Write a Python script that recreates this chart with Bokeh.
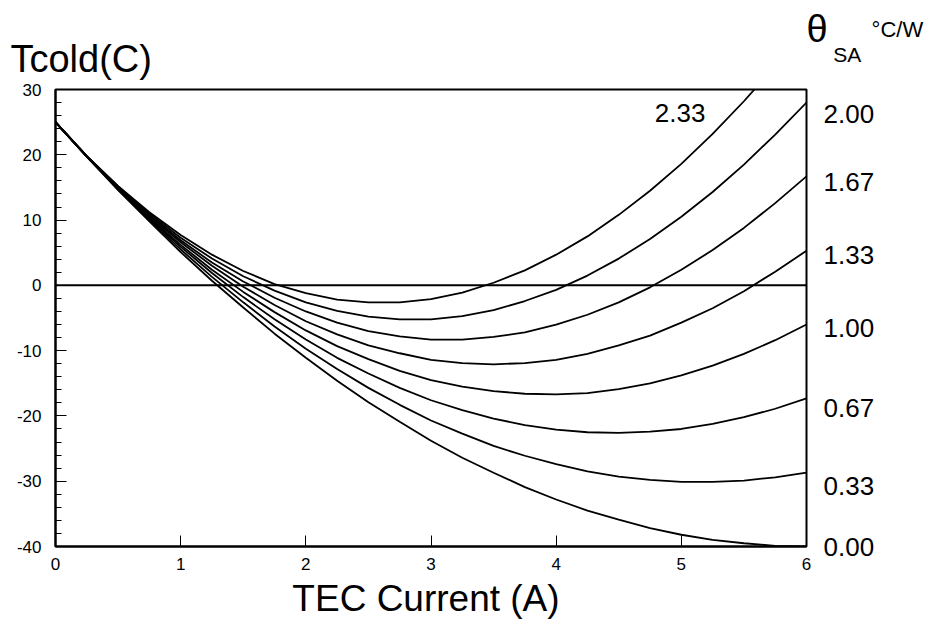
from bokeh.plotting import figure
from bokeh.models import Range1d, LinearAxis, FixedTicker, SingleIntervalTicker, Label, Span
from bokeh.embed import file_html
from bokeh.resources import INLINE

# ---- data ----
tec_current = [0.0, 0.25, 0.5, 0.75, 1.0, 1.25, 1.5, 1.75, 2.0, 2.25, 2.5, 2.75, 3.0,
               3.25, 3.5, 3.75, 4.0, 4.25, 4.5, 4.75, 5.0, 5.25, 5.5, 5.75, 6.0]

tcold_theta_000 = [25.0, 19.7, 14.6, 9.8, 5.1, 0.7, -3.4, -7.4, -11.1, -14.6, -17.9, -20.9, -23.8,
                   -26.4, -28.7, -30.9, -32.8, -34.5, -35.9, -37.2, -38.2, -39.0, -39.5, -39.9, -40.0]
tcold_theta_033 = [25.0, 19.7, 14.7, 10.0, 5.5, 1.3, -2.6, -6.3, -9.7, -12.8, -15.7, -18.3, -20.7,
                   -22.7, -24.6, -26.1, -27.4, -28.5, -29.3, -29.8, -30.1, -30.1, -29.9, -29.4, -28.7]
tcold_theta_067 = [25.0, 19.7, 14.8, 10.2, 5.9, 1.9, -1.8, -5.2, -8.3, -11.1, -13.5, -15.7, -17.6,
                   -19.1, -20.4, -21.4, -22.1, -22.5, -22.6, -22.4, -22.0, -21.2, -20.2, -18.9, -17.3]
tcold_theta_100 = [25.0, 19.7, 14.9, 10.4, 6.2, 2.4, -1.0, -4.1, -6.9, -9.3, -11.3, -13.1, -14.5,
                   -15.5, -16.2, -16.6, -16.7, -16.5, -15.9, -15.0, -13.8, -12.3, -10.5, -8.4, -6.0]
tcold_theta_133 = [25.0, 19.8, 15.0, 10.6, 6.6, 3.0, -0.2, -3.0, -5.5, -7.5, -9.2, -10.4, -11.4,
                   -11.9, -12.1, -11.9, -11.4, -10.5, -9.2, -7.7, -5.7, -3.5, -0.9, 2.1, 5.3]
tcold_theta_167 = [25.0, 19.8, 15.1, 10.8, 6.9, 3.5, 0.6, -1.9, -4.0, -5.7, -7.0, -7.8, -8.3,
                   -8.3, -7.9, -7.2, -6.0, -4.5, -2.6, -0.3, 2.4, 5.4, 8.8, 12.6, 16.7]
tcold_theta_200 = [25.0, 19.8, 15.2, 11.0, 7.3, 4.1, 1.4, -0.8, -2.6, -3.9, -4.8, -5.2, -5.2,
                   -4.7, -3.8, -2.4, -0.7, 1.5, 4.1, 7.1, 10.5, 14.3, 18.5, 23.1, 28.0]
tcold_theta_233 = [25.0, 19.8, 15.2, 11.2, 7.7, 4.7, 2.2, 0.2, -1.2, -2.2, -2.6, -2.6, -2.1,
                   -1.1, 0.4, 2.3, 4.7, 7.5, 10.8, 14.5, 18.6, 23.2, 28.2, 33.6, 39.3]

curves = [tcold_theta_000, tcold_theta_033, tcold_theta_067, tcold_theta_100,
          tcold_theta_133, tcold_theta_167, tcold_theta_200, tcold_theta_233]

y_ticks = [-40, -30, -20, -10, 0, 10, 20, 30]
y_tick_labels = ["-40", "-30", "-20", "-10", "0", "10", "20", "30"]
theta_labels = ["2.00", "1.67", "1.33", "1.00", "0.67", "0.33", "0.00"]
theta_label_at = [26.3, 15.8, 4.7, -6.5, -18.8, -30.8, -40.0]
inner_label = "2.33"

FONT = "Liberation Sans"

p = figure(width=930, height=628,
           x_range=Range1d(0, 6), y_range=Range1d(-40, 30),
           output_backend="svg", toolbar_location=None,
           min_border_left=55, min_border_right=124,
           min_border_top=89, min_border_bottom=82)

p.grid.visible = False
p.background_fill_color = "white"
p.border_fill_color = "white"
p.outline_line_color = "black"
p.outline_line_width = 2

# left axis
ya = p.yaxis[0]
ya.ticker = SingleIntervalTicker(interval=10, num_minor_ticks=5)
ya.major_label_overrides = {v: t for v, t in zip(y_ticks, y_tick_labels)}
ya.major_tick_in = 11
ya.major_tick_out = 0
ya.minor_tick_in = 6
ya.minor_tick_out = 0
ya.axis_line_width = 2
ya.major_tick_line_color = "black"
ya.minor_tick_line_color = "black"
ya.major_label_text_font = FONT
ya.major_label_text_font_size = "17px"
ya.major_label_text_color = "black"
ya.major_label_standoff = 14

# bottom axis
xa = p.xaxis[0]
xa.ticker = SingleIntervalTicker(interval=1)
xa.major_tick_in = 11
xa.major_tick_out = 0
xa.minor_tick_line_color = None
xa.axis_line_width = 2
xa.major_label_text_font = FONT
xa.major_label_text_font_size = "17px"
xa.major_label_text_color = "black"
xa.major_label_standoff = 7

# right axis with theta labels
ra = LinearAxis(ticker=FixedTicker(ticks=theta_label_at),
                major_label_overrides={v: t for v, t in zip(theta_label_at, theta_labels)})
ra.axis_line_color = None
ra.major_tick_line_color = None
ra.minor_tick_line_color = None
ra.major_label_text_font = FONT
ra.major_label_text_font_size = "26px"
ra.major_label_text_color = "black"
ra.major_label_standoff = 11
p.add_layout(ra, "right")

# zero line
p.add_layout(Span(location=0, dimension="width", line_color="black", line_width=2))

for c in curves:
    p.line(tec_current, c, line_color="black", line_width=1.8)

def lab(x, y, text, size, align="left", side="center"):
    L = Label(x=x, y=y, text=text, text_font=FONT, text_font_size=size,
              text_color="black", text_align=align, text_baseline="middle")
    if side == "center":
        p.add_layout(L)
    else:
        p.add_layout(L, side)

lab(4.99, 26.33, inner_label, "26px", "center")
lab(-0.36, 34.6, "Tcold(C)", "38px", "left", "above")
lab(6.52, 39.16, "°C/W", "22px", "left", "above")
lab(2.96, -47.9, "TEC Current (A)", "37px", "center", "below")
lab(6.0, 39.2, "θ", "38px", "left", "right")
lab(6.214, 35.33, "SA", "21px", "left", "right")

open("out.html", "w").write(file_html(p, INLINE))
